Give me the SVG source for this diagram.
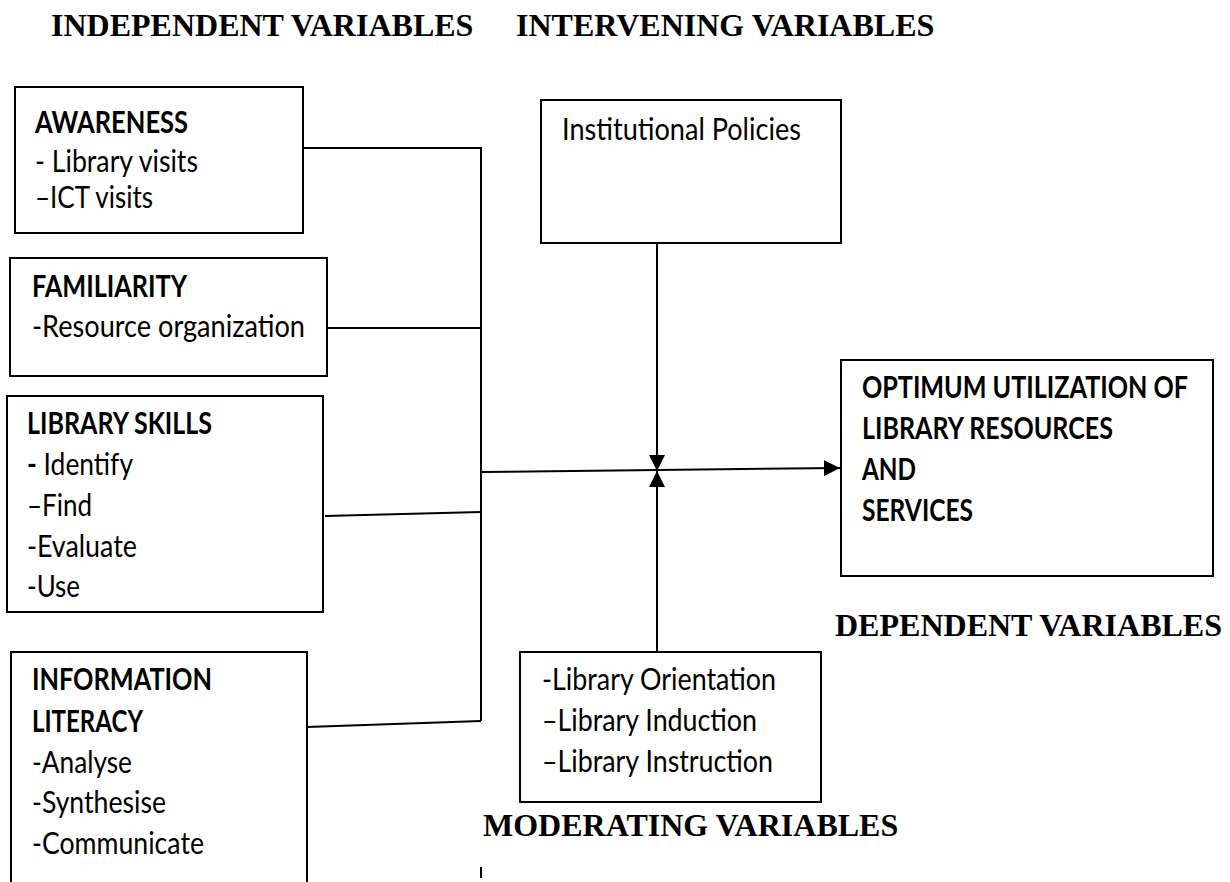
<svg xmlns="http://www.w3.org/2000/svg" width="1230" height="882" viewBox="0 0 1230 882">
<defs>
<style>
.box{fill:#fff;stroke:#000;stroke-width:2}
.ln{fill:none;stroke:#000;stroke-width:2}
.t{font-family:Lato,"Liberation Sans",sans-serif;font-size:30px;fill:#000}
.b{font-weight:bold}
.h{font-family:"Liberation Serif","Times New Roman",serif;font-weight:bold;font-size:32px;fill:#000}
</style>
<marker id="ah" viewBox="0 0 16 16" refX="16" refY="8" markerWidth="16" markerHeight="16" markerUnits="userSpaceOnUse" orient="auto">
<path d="M0,0 L16,8 L0,16 Z" fill="#000"/>
</marker>
</defs>
<rect width="1230" height="882" fill="#fff"/>
<g id="headers">
<text class="h" x="51" y="36">INDEPENDENT VARIABLES</text>
<text class="h" x="516" y="36">INTERVENING VARIABLES</text>
<text class="h" x="835" y="636" textLength="387" lengthAdjust="spacingAndGlyphs">DEPENDENT VARIABLES</text>
<text class="h" x="483" y="836">MODERATING VARIABLES</text>
</g>
<g id="connectors">
<path class="ln" d="M303,148 H481 V721"/>
<path class="ln" d="M327,328 H481"/>
<path class="ln" d="M325,516 L481,512"/>
<path class="ln" d="M307,727 L481,721"/>
<path class="ln" d="M481,472 L840,468" marker-end="url(#ah)"/>
<path class="ln" d="M657,243 V471" marker-end="url(#ah)"/>
<path class="ln" d="M657,652 V471" marker-end="url(#ah)"/>
<path class="ln" d="M173,223 V233"/>
<path class="ln" d="M481,867 V878"/>
</g>
<g id="awareness">
<rect class="box" x="15" y="87" width="288" height="146"/>
<text class="t b" x="35" y="133" textLength="153" lengthAdjust="spacingAndGlyphs">AWARENESS</text>
<text class="t" x="35" y="172" textLength="163" lengthAdjust="spacingAndGlyphs">- Library visits</text>
<text class="t" x="35" y="208" textLength="118" lengthAdjust="spacingAndGlyphs">–ICT visits</text>
</g>
<g id="familiarity">
<rect class="box" x="10" y="258" width="317" height="118"/>
<text class="t b" x="32" y="297" textLength="155" lengthAdjust="spacingAndGlyphs">FAMILIARITY</text>
<text class="t" x="32" y="337" textLength="273" lengthAdjust="spacingAndGlyphs">-Resource organization</text>
</g>
<g id="library-skills">
<rect class="box" x="7" y="396" width="316" height="216"/>
<text class="t b" x="27" y="434" textLength="185" lengthAdjust="spacingAndGlyphs">LIBRARY SKILLS</text>
<text class="t" x="27" y="475" textLength="106" lengthAdjust="spacingAndGlyphs"><tspan class="b">-</tspan> Identify</text>
<text class="t" x="27" y="516" textLength="65" lengthAdjust="spacingAndGlyphs">–Find</text>
<text class="t" x="27" y="557" textLength="110" lengthAdjust="spacingAndGlyphs">-Evaluate</text>
<text class="t" x="27" y="597" textLength="53" lengthAdjust="spacingAndGlyphs">-Use</text>
</g>
<g id="information-literacy">
<path class="box" d="M11,884 V652 H307 V884"/>
<text class="t b" x="32" y="690" textLength="180" lengthAdjust="spacingAndGlyphs">INFORMATION</text>
<text class="t b" x="32" y="732" textLength="111" lengthAdjust="spacingAndGlyphs">LITERACY</text>
<text class="t" x="32" y="773" textLength="100" lengthAdjust="spacingAndGlyphs">-Analyse</text>
<text class="t" x="32" y="813" textLength="134" lengthAdjust="spacingAndGlyphs">-Synthesise</text>
<text class="t" x="32" y="854" textLength="172" lengthAdjust="spacingAndGlyphs">-Communicate</text>
</g>
<g id="institutional-policies">
<rect class="box" x="541" y="100" width="300" height="143"/>
<text class="t" x="562" y="140" textLength="239" lengthAdjust="spacingAndGlyphs">Institutional Policies</text>
</g>
<g id="moderating">
<rect class="box" x="520" y="652" width="301" height="150"/>
<text class="t" x="542" y="690" textLength="234" lengthAdjust="spacingAndGlyphs">-Library Orientation</text>
<text class="t" x="542" y="731" textLength="215" lengthAdjust="spacingAndGlyphs">–Library Induction</text>
<text class="t" x="542" y="772" textLength="231" lengthAdjust="spacingAndGlyphs">–Library Instruction</text>
</g>
<g id="optimum">
<rect class="box" x="841" y="360" width="372" height="216"/>
<text class="t b" x="862" y="398" textLength="326" lengthAdjust="spacingAndGlyphs">OPTIMUM UTILIZATION OF</text>
<text class="t b" x="862" y="439" textLength="251" lengthAdjust="spacingAndGlyphs">LIBRARY RESOURCES</text>
<text class="t b" x="862" y="480" textLength="54" lengthAdjust="spacingAndGlyphs">AND</text>
<text class="t b" x="862" y="521" textLength="111" lengthAdjust="spacingAndGlyphs">SERVICES</text>
</g>
</svg>
